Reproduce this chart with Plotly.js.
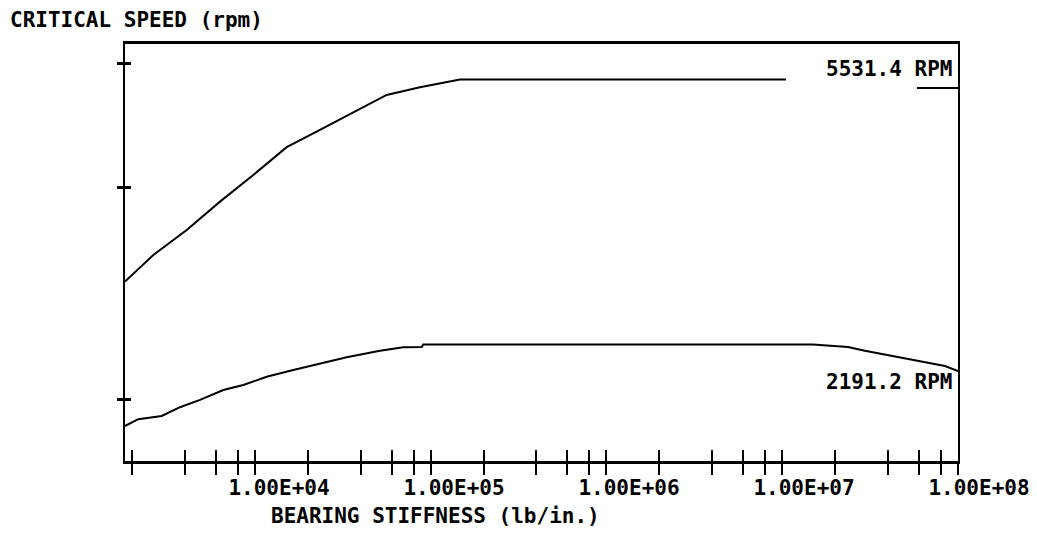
<!DOCTYPE html>
<html><head><meta charset="utf-8">
<script src="https://cdn.plot.ly/plotly-3.0.1.min.js"></script>
<style>html,body{margin:0;padding:0;background:#fff}</style>
</head><body><div id="chart" style="width:1037px;height:534px"></div>
<script>
// Bearing stiffness (lb/in.) vs critical speed (rpm)
const upperStiffness = [912, 1322, 2048, 3167, 4898, 7586, 11733, 18150, 28100, 43460, 67220, 73400, 5.25e6, 1e7, 2.92e7, 5e7];
const upperSpeed     = [2936, 3203, 3476, 3814, 4162, 4557, 4822, 5108, 5406, 5544, 5665, 5687, 5687, null, 5531.4, 5531.4];

const lowerStiffness = [912, 1086, 1475, 1875, 2437, 3306, 4297, 5838, 8270, 11733, 16640, 25750, 34930, 44450, 45400, 7.47e6, 1.183e7, 1.477e7, 1.846e7, 2.276e7, 2.92e7, 3.553e7, 4.213e7, 5e7];
const lowerSpeed     = [1831, 1872, 1892, 1947, 1994, 2060, 2094, 2151, 2199, 2247, 2292, 2342, 2368, 2371, 2390, 2390, 2371, 2342, 2317, 2297, 2267, 2247, 2228, 2191.2];

// axis ticks and labels
const tickDecades = [1e3, 1e4, 1e5, 1e6, 1e7];
const tickMultipliers = [1, 2, 3, 4, 5];
const xLabelValues = [1e4, 1e5, 1e6, 1e7, 1e8];
const xLabelText = ['1.00E+04', '1.00E+05', '1.00E+06', '1.00E+07', '1.00E+08'];
const yTickValues = [2000, 4000, 6000];

const xTickValues = [];
tickDecades.forEach(d => tickMultipliers.forEach(m => xTickValues.push(d * m)));

const FONT = {family: "'DejaVu Sans Mono', 'Liberation Mono', monospace", size: 21, color: '#000', weight: 'bold'};

const W = 1037, H = 534;
const mL = 100, mR = 30, mT = 44, mB = 73;
const plotW = W - mL - mR;
const plotH = H - mT - mB;
const axL = 125, axR = 958;

const traces = [
  {x: upperStiffness, y: upperSpeed, type: 'scatter', mode: 'lines', line: {color: '#000', width: 2}, connectgaps: false, hoverinfo: 'skip', xaxis: 'x', yaxis: 'y'},
  {x: lowerStiffness, y: lowerSpeed, type: 'scatter', mode: 'lines', line: {color: '#000', width: 2}, hoverinfo: 'skip', xaxis: 'x', yaxis: 'y'},
  {x: [], y: [], type: 'scatter', xaxis: 'x2', yaxis: 'y', hoverinfo: 'skip'},
  {x: [], y: [], type: 'scatter', xaxis: 'x3', yaxis: 'y', hoverinfo: 'skip'},
  {x: [], y: [], type: 'scatter', xaxis: 'x', yaxis: 'y2', hoverinfo: 'skip'}
];

const xRange = [2.9602, 7.699];
const yRange = [3.21296, 3.80529];
const xDomain = [(axL - mL) / plotW, (axR - mL) / plotW];

const uLast = upperSpeed.length - 1, lLast = lowerSpeed.length - 1;

const layout = {
  width: W, height: H,
  margin: {l: mL, r: mR, t: mT, b: mB, pad: 0},
  paper_bgcolor: '#fff', plot_bgcolor: 'rgba(0,0,0,0)',
  showlegend: false,
  font: FONT,
  title: {text: 'CRITICAL SPEED (rpm)', font: FONT, x: 10 / W, xref: 'container', xanchor: 'left', y: 1 - 20 / H, yref: 'container', yanchor: 'middle'},
  xaxis: {type: 'log', range: xRange, domain: xDomain, anchor: 'y', showline: true, linewidth: 3, linecolor: '#000', mirror: true,
          ticks: 'outside', ticklen: 11, tickwidth: 2, tickcolor: '#000', tickmode: 'array', tickvals: xTickValues,
          showticklabels: false, showgrid: false, zeroline: false, fixedrange: true},
  xaxis3: {type: 'log', range: xRange, domain: xDomain, anchor: 'y', overlaying: 'x', showline: false,
          ticks: 'inside', ticklen: 11, tickwidth: 2, tickcolor: '#000', tickmode: 'array', tickvals: xTickValues,
          showticklabels: false, showgrid: false, zeroline: false, fixedrange: true},
  xaxis2: {type: 'log', range: [2.977, 8.16], domain: [0, 1], anchor: 'y', showline: false, ticks: '',
          tickmode: 'array', tickvals: xLabelValues, ticktext: xLabelText, tickfont: FONT, ticklabelstandoff: 12,
          ticklabeloverflow: 'allow', showgrid: false, zeroline: false, fixedrange: true},
  yaxis: {type: 'log', range: yRange, domain: [0, 1], anchor: 'x', showline: true, linewidth: 2, linecolor: '#000', mirror: true,
          ticks: 'outside', ticklen: 6, tickwidth: 3, tickcolor: '#000', tickmode: 'array', tickvals: yTickValues,
          showticklabels: false, showgrid: false, zeroline: false, fixedrange: true},
  yaxis2: {type: 'log', range: yRange, anchor: 'x', overlaying: 'y', showline: false,
          ticks: 'inside', ticklen: 6, tickwidth: 3, tickcolor: '#000', tickmode: 'array', tickvals: yTickValues,
          showticklabels: false, showgrid: false, zeroline: false, fixedrange: true},
  annotations: [
    {text: 'BEARING STIFFNESS (lb/in.)', xref: 'paper', yref: 'paper', x: (435 - mL) / plotW, y: -55 / plotH,
     xanchor: 'center', yanchor: 'middle', showarrow: false, font: FONT},
    {text: upperSpeed[uLast].toFixed(1) + ' RPM', xref: 'x', yref: 'y', x: Math.log10(upperStiffness[uLast]), y: Math.log10(upperSpeed[uLast]),
     xanchor: 'right', yanchor: 'middle', xshift: -4, yshift: 19, showarrow: false, font: FONT},
    {text: lowerSpeed[lLast].toFixed(1) + ' RPM', xref: 'x', yref: 'y', x: Math.log10(lowerStiffness[lLast]), y: Math.log10(lowerSpeed[lLast]),
     xanchor: 'right', yanchor: 'middle', xshift: -4, yshift: -11, showarrow: false, font: FONT}
  ]
};

Plotly.newPlot('chart', traces, layout, {staticPlot: true, displayModeBar: false});
</script>
</body></html>
